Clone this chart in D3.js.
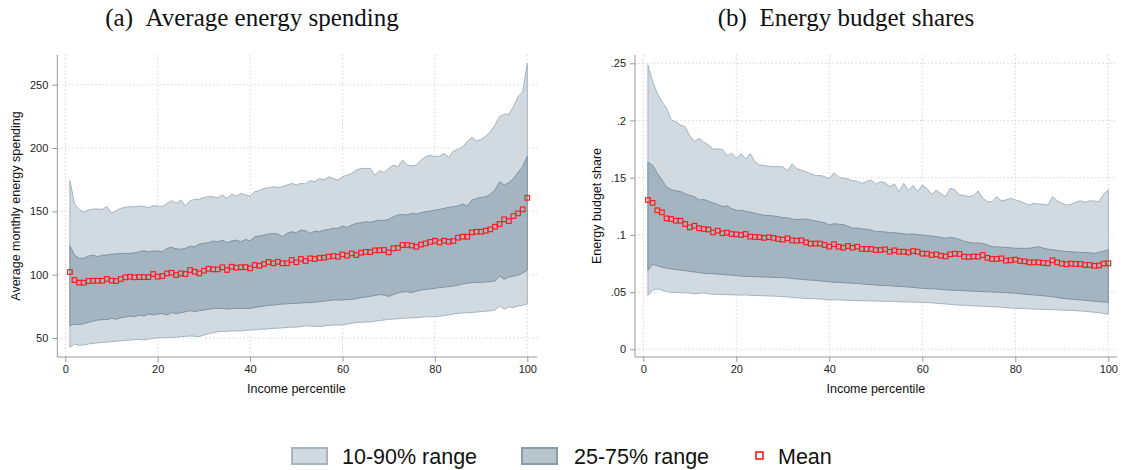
<!DOCTYPE html>
<html>
<head>
<meta charset="utf-8">
<script src="https://cdn.jsdelivr.net/npm/d3@7"></script>
<style>
body { margin: 0; background: #fff; }
text { font-family: "Liberation Sans", Arial, sans-serif; }
</style>
</head>
<body>
<div id="chart"></div>
<script>
// income percentiles 1..100
var percentile = d3.range(1, 101);

// (a) average monthly energy spending
var spendP10 = [42.7,45.3,44.2,44.5,45.3,45.8,46.2,46.5,46.8,47.1,47.5,47.8,48.1,48.4,48.7,49,48.4,49.2,49.7,50,
  50.3,50.3,50.5,50.7,51,51.3,51.6,51.4,51.1,52.4,53.3,54.2,55,55.2,55.3,55.5,55.6,55.6,56,56.3,
  56.5,56.8,57,57.3,57.6,57.8,58,58.3,58.6,58.6,59,59.7,59.4,59.2,59,59.5,60,60.3,60.3,60.3,
  61,61.6,62.2,62.4,62.6,62.6,63.2,63.8,64.2,64.8,65,65.2,65.5,65.8,66,66.2,66.4,66.8,66.8,66.8,
  67.2,67.6,68.3,69,69.5,69.7,70,70.2,70.5,70.8,71.2,71.5,72.1,75.3,72.8,74.5,74,75.3,75.8,76.8];
var spendP25 = [59.7,61,60.5,61.3,62.4,63.2,64.2,64.5,64.5,65.5,64.8,66,66.5,67.4,66.8,68,67.4,68.9,68.2,68.9,
  69.3,68.2,70,69.2,70,70.7,71.6,70.9,71.6,72.1,72.6,73.4,73.4,73.2,72.8,73.2,73.4,73.2,73.4,73.4,
  74,74.7,75.2,75.8,76,76.4,76.8,77,77.2,77.4,77.6,77.9,77.9,78.3,78.7,79.1,79.6,80,80,80,
  80.3,80.5,81.1,81.8,82.3,83,83.5,84.2,84,82.8,84.3,85.5,86.5,86.5,85.8,87,87.9,88.3,88.8,89.2,
  89.8,90.2,90.6,91,91.8,92.6,93.2,93.7,93.9,94,94.2,94.5,95,98.9,96.3,98.2,98.9,99.7,101.3,103.7];
var spendP75 = [122.9,115.5,112.9,112.9,114.7,115.5,114.2,115.5,115.5,116.3,116.3,116.8,116.8,116.8,117.3,118.1,118.9,118.1,118.7,118.7,
  118.1,120.8,121.6,120.5,120,120.8,122.6,122,124.2,124.7,125.3,126.6,126,127.3,125.3,126.6,127.3,126,127.8,126.6,
  130,130.5,131.3,132.1,132.6,132.1,130,132.6,133.9,133.1,135.2,134.7,132.6,134.4,133.9,135.2,135.7,136.6,136.6,138.4,
  137.3,139.2,140.5,141,141.8,141.3,142.3,143.1,142.6,143.7,145.7,147.1,147.6,147.1,148.4,147.9,149,149.7,150.2,151,
  151.5,152.4,153.1,153.7,154.2,155.8,154.2,158.9,160.2,161,161.5,163.6,166.8,173.4,170.8,172.6,176,180.8,185.2,193.6];
var spendP90 = [174.2,155.8,151.6,149.4,151,151.8,151.8,151.6,153.7,148.4,150.5,152.4,153.1,153.7,153.7,154.2,153.7,153.1,154.4,154.2,
  153.7,156.3,158.4,156.3,158.9,154.4,158.4,159.5,159.5,161,161.5,161.5,160.7,162.9,160.2,163.6,162.1,164.2,162.9,162.1,
  165.5,166.3,168.1,168.6,169.4,168.9,169.4,170.8,172.1,170.8,172.1,171.6,174.2,173.4,176,174.7,177.3,176,174.7,177.3,
  178.6,180,182.6,183.9,183.9,183.9,178.6,182,180.7,183.9,186.5,185.2,190.5,186.5,185.8,186.5,190.5,193.1,194.4,193.1,
  193.6,195.8,192.5,197.6,198.9,201,205,208.4,205.7,206.7,209.4,212.8,218.1,224.7,226.6,226.6,232.6,240.5,244.4,266.8];
var spendMean = [102.1,95.8,93.7,93.7,95,95.2,95.2,95.2,96.6,95.3,95,96.6,97.9,98.4,97.9,98.1,98.1,98.1,100.5,98.4,
  99,101,101.5,99.7,101,100.5,103.7,102.3,101,103.1,104.7,104.2,104.2,105.8,103.7,106.3,105.5,105.8,106,105,
  107.6,107,108.4,110,109,110.2,109,109,111.6,109.8,112.4,110.8,112.9,112.4,113.2,113.4,114.2,114.7,114.2,116,
  115,116.8,115.5,117.3,118,117.8,119.2,119.3,119.5,117.6,120.8,121.1,123.4,123.4,123,122,123.8,124.7,125.9,126.8,
  125.5,126.8,126,126.6,129.2,130,130,133.4,133.9,133.9,134.7,135.8,137.9,140,143.7,142.3,146.3,148.4,151.6,160.7];

// (b) energy budget shares
var shareP10 = [.0469,.0518,.0527,.0518,.0505,.0498,.0496,.0495,.0494,.0492,.0485,.0488,.0494,.0486,.048,.0482,.0479,.0478,.0477,.0475,
  .0474,.0476,.0472,.047,.0469,.0468,.0466,.0465,.0463,.046,.0458,.0454,.045,.0446,.0445,.0443,.0442,.044,.0436,.0431,
  .0433,.0432,.043,.0428,.0427,.0426,.0425,.0424,.0423,.0422,.0421,.0419,.042,.0418,.0416,.0415,.0414,.0413,.0412,.041,
  .0408,.0406,.0403,.04,.0396,.0393,.0388,.0386,.0384,.0382,.038,.0378,.0376,.0374,.0372,.037,.0368,.0364,.0361,.0358,
  .0357,.0356,.0354,.0352,.0351,.0349,.0348,.0347,.0345,.0343,.0341,.034,.0338,.0335,.0332,.0328,.0324,.032,.0313,.0306];
var shareP25 = [.069,.0743,.073,.0718,.0708,.0702,.0698,.0692,.0688,.068,.0676,.0672,.0664,.0662,.066,.0658,.0654,.065,.0648,.0644,
  .064,.0638,.0637,.0635,.0633,.0632,.063,.0628,.0627,.0626,.0624,.0618,.0615,.0612,.0608,.0605,.0602,.0598,.0594,.059,
  .0587,.0585,.0582,.058,.0577,.0575,.0572,.0568,.0565,.0562,.0559,.0557,.0556,.0552,.055,.0547,.0545,.0541,.0537,.0533,
  .0531,.0529,.0527,.0524,.052,.0518,.0516,.0514,.0512,.051,.0508,.0506,.0504,.0503,.0501,.0499,.0497,.0495,.0492,.049,
  .0486,.0482,.0478,.0475,.0472,.0468,.0464,.046,.0453,.0446,.0442,.0438,.0435,.0431,.0428,.0424,.042,.0417,.0413,.041];
var shareP75 = [.1634,.161,.1538,.148,.1421,.1395,.1385,.138,.136,.1345,.1334,.1305,.131,.1295,.128,.1265,.1247,.1255,.123,.1215,
  .1215,.1205,.12,.119,.118,.117,.117,.1165,.116,.115,.115,.1139,.1135,.1135,.1139,.113,.1122,.1115,.1105,.1087,
  .1098,.1093,.109,.1075,.1058,.106,.1052,.105,.1042,.1028,.103,.1025,.1022,.1018,.1015,.101,.1005,.1008,.1002,.0999,
  .0995,.099,.0985,.0978,.097,.0978,.0972,.096,.0945,.0935,.093,.0928,.0925,.0912,.0897,.0895,.0893,.089,.0887,.0883,
  .0883,.0882,.0883,.089,.0897,.0885,.0875,.087,.0865,.0859,.0855,.0852,.085,.0848,.0846,.0843,.0839,.0848,.0858,.0868];
var shareP90 = [.2485,.234,.2238,.2164,.2106,.2004,.199,.196,.1946,.1864,.1815,.1844,.181,.1786,.175,.175,.1748,.169,.1715,.167,
  .1707,.1665,.171,.164,.161,.1605,.16,.1596,.1597,.1596,.156,.162,.158,.1565,.155,.1535,.1518,.152,.151,.1489,
  .1544,.1505,.1495,.1489,.1475,.147,.145,.1465,.148,.1442,.1465,.1455,.1421,.1445,.1378,.145,.139,.1432,.1378,.1436,
  .1405,.1355,.139,.136,.1334,.1407,.1393,.1349,.1345,.1334,.1345,.1384,.132,.129,.129,.1334,.1298,.1305,.132,.1305,
  .1295,.1276,.126,.1276,.127,.1268,.126,.1334,.1298,.1276,.1261,.1268,.1285,.1298,.1285,.1298,.1295,.129,.1355,.1393];
var shareMean = [.1305,.128,.1215,.1197,.1145,.1139,.1124,.1124,.1095,.1066,.108,.1058,.1052,.1047,.1022,.1037,.1015,.102,.1008,.1005,
  .0999,.1008,.0985,.0982,.098,.0974,.098,.0974,.0964,.0958,.097,.0952,.0949,.0952,.0935,.0924,.0924,.0924,.0912,.0897,
  .0919,.0897,.0888,.0903,.0888,.0897,.0877,.0877,.0877,.0868,.0868,.0874,.0853,.0865,.0853,.0853,.0847,.0859,.0853,.0836,
  .0836,.0824,.083,.0818,.0812,.083,.0836,.0833,.081,.0807,.0812,.081,.0824,.08,.079,.079,.0795,.0775,.0778,.0784,
  .0772,.0769,.076,.076,.076,.0755,.0752,.0778,.076,.0749,.0743,.0749,.0746,.0746,.0737,.0737,.073,.0733,.0749,.0752];

var xTicks = [0, 20, 40, 60, 80, 100];
var spendTicks = [50, 100, 150, 200, 250];
var shareTicks = [0, .05, .1, .15, .2, .25];
var shareTickLabels = ["0", ".05", ".1", ".15", ".2", ".25"];
var legendLabels = ["10-90% range", "25-75% range", "Mean"];

var outerFill = "#d1dae1", outerEdge = "#a3b3bf";
var innerFill = "#a4b4c0", innerEdge = "#7d93a4";
var innerSwatch = "#b9c5cd";
var meanColor = "#ff1a1a";

var svg = d3.select("#chart").append("svg")
    .attr("width", 1121)
    .attr("height", 470);

function drawPanel(o)
{
    var top = 55, bottom = 357;
    var x = d3.scaleLinear().domain([0, 100]).range(o.xRange);
    var y = d3.scaleLinear().domain(o.yDomain).range(o.yRange);
    var g = svg.append("g");

    // grid
    g.append("g").selectAll("line")
        .data(o.yTicks).enter().append("line")
        .attr("x1", o.axisX).attr("x2", o.gridRight)
        .attr("y1", function(d) { return y(d); })
        .attr("y2", function(d) { return y(d); })
        .attr("stroke", "#cfcfcf").attr("stroke-dasharray", "1.2,2.6");
    g.append("g").selectAll("line")
        .data(xTicks).enter().append("line")
        .attr("x1", function(d) { return x(d); })
        .attr("x2", function(d) { return x(d); })
        .attr("y1", top).attr("y2", bottom)
        .attr("stroke", "#cfcfcf").attr("stroke-dasharray", "1.2,2.6");

    var outer = d3.area()
        .x(function(d, i) { return x(percentile[i]); })
        .y0(function(d, i) { return y(o.p10[i]); })
        .y1(function(d, i) { return y(o.p90[i]); });
    var inner = d3.area()
        .x(function(d, i) { return x(percentile[i]); })
        .y0(function(d, i) { return y(o.p25[i]); })
        .y1(function(d, i) { return y(o.p75[i]); });

    g.append("path").datum(percentile)
        .attr("d", outer)
        .attr("fill", outerFill).attr("stroke", outerEdge).attr("stroke-width", 1);
    g.append("path").datum(percentile)
        .attr("d", inner)
        .attr("fill", innerFill).attr("stroke", innerEdge).attr("stroke-width", 1);

    g.append("g").selectAll("rect")
        .data(o.mean).enter().append("rect")
        .attr("x", function(d, i) { return x(percentile[i]) - 2.3; })
        .attr("y", function(d) { return y(d) - 2.3; })
        .attr("width", 4.6).attr("height", 4.6)
        .attr("fill", "none").attr("stroke", meanColor).attr("stroke-width", 1.15);

    // axes
    var yAxis = d3.axisLeft(y).tickValues(o.yTicks).tickSize(5).tickPadding(4);
    if (o.yLabels) yAxis.tickFormat(function(d, i) { return o.yLabels[i]; });
    var ya = g.append("g").attr("transform", "translate(" + o.axisX + ",0)").call(yAxis);
    var xa = g.append("g").attr("transform", "translate(0," + bottom + ")")
        .call(d3.axisBottom(x).tickValues(xTicks).tickSize(5).tickPadding(3));
    [ya, xa].forEach(function(a) {
        a.select(".domain").remove();
        a.selectAll("line").attr("stroke", "#9a9a9a");
        a.selectAll("text").attr("fill", "#222").style("font-size", "11px")
            .style("font-family", "'Liberation Sans', Arial, sans-serif");
    });
    g.append("line").attr("x1", o.axisX).attr("x2", o.axisX)
        .attr("y1", top).attr("y2", bottom).attr("stroke", "#9a9a9a");
    g.append("line").attr("x1", o.axisX).attr("x2", o.gridRight)
        .attr("y1", bottom).attr("y2", bottom).attr("stroke", "#9a9a9a");

    g.append("text")
        .attr("x", (o.xRange[0] + o.xRange[1]) / 2).attr("y", 393)
        .attr("text-anchor", "middle").style("font-size", "12.5px").attr("fill", "#111")
        .text("Income percentile");
    g.append("text")
        .attr("transform", "translate(" + o.yTitleX + ",206) rotate(-90)")
        .attr("text-anchor", "middle").style("font-size", "12.5px").attr("fill", "#111")
        .text(o.yTitle);

    g.append("text")
        .attr("x", o.titleX).attr("y", 26)
        .attr("text-anchor", "middle")
        .style("font-family", "'Liberation Serif', 'Times New Roman', serif")
        .style("font-size", "25px").attr("fill", "#111")
        .text(o.title);
}

drawPanel({
    title: "(a)\u00a0\u00a0Average energy spending", titleX: 252,
    xRange: [65.3, 527.3], yDomain: [50, 250], yRange: [338, 84.7],
    axisX: 57.3, gridRight: 537, yTicks: spendTicks,
    yTitle: "Average monthly energy spending", yTitleX: 20,
    p10: spendP10, p25: spendP25, p75: spendP75, p90: spendP90, mean: spendMean
});

drawPanel({
    title: "(b)\u00a0\u00a0Energy budget shares", titleX: 846,
    xRange: [643.3, 1108.3], yDomain: [0, .25], yRange: [349.3, 63.3],
    axisX: 635, gridRight: 1117, yTicks: shareTicks, yLabels: shareTickLabels,
    yTitle: "Energy budget share", yTitleX: 601,
    p10: shareP10, p25: shareP25, p75: shareP75, p90: shareP90, mean: shareMean
});

// legend
var legend = svg.append("g");
var swatches = [
    {x: 292, fill: outerFill, stroke: "#a7b5c0"},
    {x: 522, fill: innerSwatch, stroke: "#8a9dab"}
];
legend.selectAll("rect.sw")
    .data(swatches).enter().append("rect")
    .attr("class", "sw")
    .attr("x", function(d) { return d.x; }).attr("y", 448)
    .attr("width", 35).attr("height", 16)
    .attr("fill", function(d) { return d.fill; })
    .attr("stroke", function(d) { return d.stroke; }).attr("stroke-width", 2);
legend.append("rect")
    .attr("x", 756).attr("y", 452).attr("width", 7).attr("height", 7)
    .attr("fill", "#fff").attr("stroke", meanColor).attr("stroke-width", 1.6);
legend.selectAll("text")
    .data(legendLabels).enter().append("text")
    .attr("x", function(d, i) { return [342, 574, 778][i]; })
    .attr("y", 464)
    .style("font-size", "21.5px").attr("fill", "#111")
    .text(function(d) { return d; });
</script>
</body>
</html>
